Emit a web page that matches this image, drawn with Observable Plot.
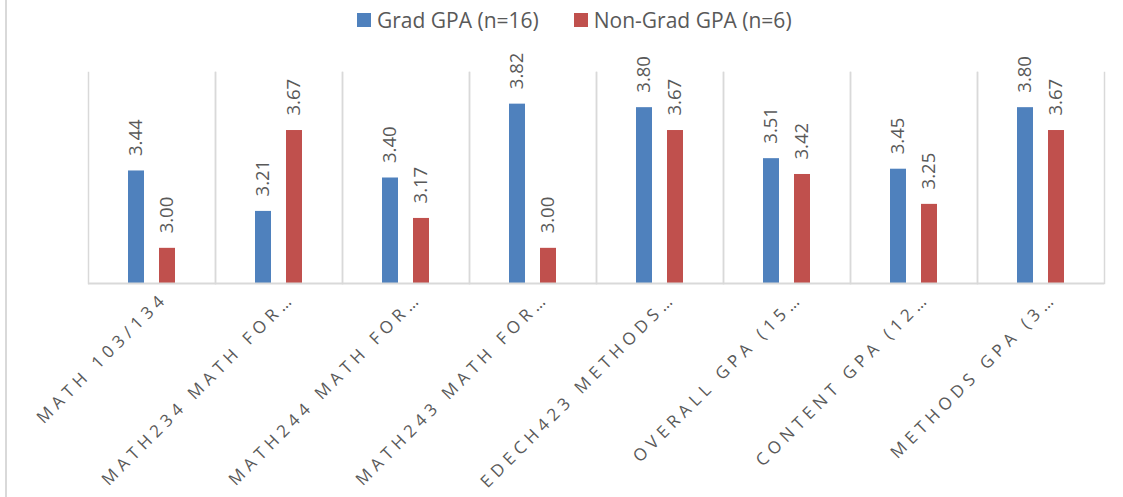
<!DOCTYPE html>
<html>
<head>
<meta charset="utf-8">
<script src="https://cdn.jsdelivr.net/npm/d3@7"></script>
<script src="https://cdn.jsdelivr.net/npm/@observablehq/plot@0.6"></script>
<style>
  html, body { margin: 0; padding: 0; background: #fff; }
  #chart { position: relative; width: 1123px; height: 497px; overflow: hidden; font-family: "Open Sans", sans-serif; }
  #edge { position: absolute; left: 5px; top: 0; width: 2px; height: 497px; background: #d9d9d9; }
  #legend { height: 40px; display: flex; align-items: center; padding-left: 357px; box-sizing: border-box; color: #595959; font-size: 21px; }
  #legend .item { display: flex; align-items: center; margin-right: 35px; white-space: nowrap; }
  #legend .swatch { width: 14px; height: 14px; margin-right: 6px; }
  #chart svg g[aria-label="fx-axis tick label"] { letter-spacing: 5px; }
</style>
</head>
<body>
<div id="chart">
  <div id="edge"></div>
  <div id="legend"></div>
</div>
<script>
// Course categories along the bottom axis
const categories = [
  "MATH 103/134",
  "MATH234 MATH FOR…",
  "MATH244 MATH FOR…",
  "MATH243 MATH FOR…",
  "EDECH423 METHODS…",
  "OVERALL GPA (15…",
  "CONTENT GPA (12…",
  "METHODS GPA (3…"
];

// Series names and colours
const series = ["Grad GPA (n=16)", "Non-Grad GPA (n=6)"];
const seriesColors = ["#4F81BD", "#C0504D"];

// Mean GPA for each group, per category
const gradGPA    = [3.44, 3.21, 3.40, 3.82, 3.80, 3.51, 3.45, 3.80];
const nonGradGPA = [3.00, 3.67, 3.17, 3.00, 3.67, 3.42, 3.25, 3.67];

// Value axis bounds
const yMin = 2.8;
const yMax = 4.0;

const rows = categories.flatMap((category, i) => [
  {category, series: series[0], value: gradGPA[i]},
  {category, series: series[1], value: nonGradGPA[i]}
]);

// Legend row above the plot
const legend = document.getElementById("legend");
series.forEach((name, i) => {
  const item = document.createElement("div");
  item.className = "item";
  const sw = document.createElement("span");
  sw.className = "swatch";
  sw.style.background = seriesColors[i];
  const label = document.createElement("span");
  label.textContent = name;
  item.append(sw, label);
  legend.append(item);
});

const gridColor = "#d9d9d9";
const textColor = "#595959";
const fmt = d3.format(".2f");

const chart = Plot.plot({
  width: 1123,
  height: 457,
  marginTop: 32,
  marginBottom: 214,
  marginLeft: 87,
  marginRight: 18,
  style: {fontFamily: "'Open Sans', sans-serif", background: "transparent", overflow: "visible"},
  fx: {domain: categories, padding: 0, label: null},
  x: {domain: series, axis: null, paddingInner: 0.47, paddingOuter: 1.22},
  y: {domain: [yMin, yMax], axis: null},
  color: {domain: series, range: seriesColors},
  marks: [
    Plot.frame({anchor: "left", stroke: gridColor, strokeWidth: 1.5}),
    Plot.frame({anchor: "right", stroke: gridColor, strokeWidth: 1.5}),
    Plot.barY(rows, {fx: "category", x: "series", y1: yMin, y2: "value", fill: "series"}),
    Plot.ruleY([yMin], {stroke: gridColor, strokeWidth: 2}),
    Plot.text(rows, {
      fx: "category", x: "series", y: "value",
      text: (d) => fmt(d.value),
      rotate: -90, textAnchor: "start", dy: -15,
      fill: textColor, fontSize: 18.5
    }),
    Plot.axisFx({
      anchor: "bottom", tickRotate: -45, tickSize: 0, tickPadding: 12, dx: 13,
      label: null, fontSize: 17, fill: textColor
    })
  ]
});

document.getElementById("chart").append(chart);
</script>
</body>
</html>
